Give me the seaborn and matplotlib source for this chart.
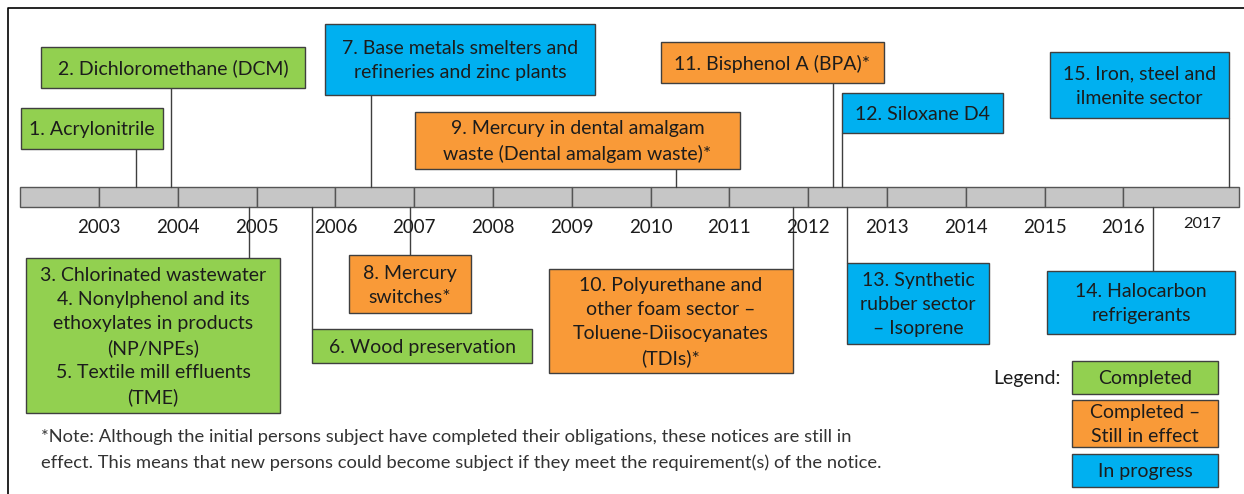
import numpy as np
import pandas as pd
import seaborn as sns
from matplotlib import pyplot as plt
from matplotlib.patches import Rectangle

# --- data -------------------------------------------------------------
years = list(range(2003, 2018))
bar_start, bar_end = 2002.0, 2017.47

notice_labels = [
    '1. Acrylonitrile',
    '2. Dichloromethane (DCM)',
    '3. Chlorinated wastewater\n4. Nonylphenol and its\nethoxylates in products\n(NP/NPEs)\n5. Textile mill effluents\n(TME)',
    '6. Wood preservation',
    '7. Base metals smelters and\nrefineries and zinc plants',
    '8. Mercury\nswitches*',
    '9. Mercury in dental amalgam\nwaste (Dental amalgam waste)*',
    '10. Polyurethane and\nother foam sector \u2013\nToluene-Diisocyanates\n(TDIs)*',
    '11. Bisphenol A (BPA)*',
    '12. Siloxane D4',
    '13. Synthetic\nrubber sector\n\u2013 Isoprene',
    '14. Halocarbon\nrefrigerants',
    '15. Iron, steel and\nilmenite sector',
]
notice_status = [
    'Completed', 'Completed', 'Completed', 'Completed', 'In progress',
    'Still in effect', 'Still in effect', 'Still in effect', 'Still in effect',
    'In progress', 'In progress', 'In progress', 'In progress',
]
notice_year = [2003.47, 2003.91, 2004.90, 2005.70, 2006.45, 2006.95, 2010.32,
               2011.81, 2012.31, 2012.43, 2012.49, 2016.38, 2017.34]

legend_labels = ['Completed', 'Completed \u2013\nStill in effect', 'In progress']
legend_status = ['Completed', 'Still in effect', 'In progress']

note_lines = [
    '*Note: Although the initial persons subject have completed their obligations, these notices are still in',
    'effect. This means that new persons could become subject if they meet the requirement(s) of the notice.',
]

# --- layout (pixels of the 1244x494 canvas) ---------------------------
PX0, PX_YEAR = 99, 78.8


def px2yr(px):
    return 2003 + (px - PX0) / PX_YEAR


# box: left, right, top, bottom
boxes = [
    (21, 163, 108, 149), (41, 305, 47, 88), (26, 280, 258, 413),
    (312, 532, 329, 363), (325, 595, 24, 95), (349, 471, 255, 313),
    (415, 740, 112, 169), (549, 793, 269, 373), (661, 884, 42, 83),
    (842, 1003, 93, 133), (847, 989, 263, 344), (1047, 1235, 271, 334),
    (1050, 1229, 52, 118),
]
legend_boxes = [(1072, 1218, 361, 394), (1072, 1218, 400, 447), (1072, 1218, 454, 487)]
BAR_TOP, BAR_BOT = 187, 207

colors = {'Completed': '#92D050', 'Still in effect': '#F99A38', 'In progress': '#00B0F0'}
EDGE = '#3f3f3f'
TXT = '#1c1c1c'
FS = 14

sns.set_theme(style='white')
plt.rcParams['font.family'] = ['Lato', 'DejaVu Sans']

fig = plt.figure(figsize=(12.44, 4.94), dpi=100)
ax = fig.add_axes([0, 0, 1, 1])
ax.axis('off')

# frame
ax.plot([px2yr(8), px2yr(8), px2yr(1244)], [494, 8, 8], color='black', lw=1.2)

# timeline bar, one segment per year
seg_left = np.array([bar_start] + years[:-1], dtype=float)
seg_right = np.append(seg_left[1:], bar_end)
ax.barh(y=(BAR_TOP + BAR_BOT) / 2, width=seg_right - seg_left, left=seg_left,
        height=BAR_BOT - BAR_TOP, color='#C6C6C6', edgecolor='#555555', lw=1)
for yr in years:
    last = yr == years[-1]
    ax.text(yr, 224 if last else 227, str(yr), ha='center', va='center',
            fontsize=11.8 if last else 13.5, color=TXT)

# connectors
rows = []
for i, yr in enumerate(notice_year):
    x0, x1, y0, y1 = boxes[i]
    if y1 < BAR_TOP:
        rows += [(i, yr, BAR_TOP), (i, yr, y1)]
    else:
        rows += [(i, yr, BAR_BOT), (i, yr, y0)]
conn = pd.DataFrame(rows, columns=['id', 'x', 'y'])
sns.lineplot(data=conn, x='x', y='y', units='id', estimator=None, sort=False,
             color=EDGE, lw=1, ax=ax, legend=False)
ax.set_xlim(px2yr(0), px2yr(1244))
ax.set_ylim(494, 0)
ax.axis('off')


def draw_box(b, label, status):
    x0, x1, y0, y1 = b
    ax.add_patch(Rectangle((px2yr(x0), y0), px2yr(x1) - px2yr(x0), y1 - y0,
                           facecolor=colors[status], edgecolor=EDGE, lw=1, zorder=3))
    ax.text((px2yr(x0) + px2yr(x1)) / 2, (y0 + y1) / 2 + 1, label, ha='center',
            va='center', fontsize=FS, color=TXT, linespacing=1.5, zorder=4)


for b, lab, st in zip(boxes, notice_labels, notice_status):
    draw_box(b, lab, st)
for b, lab, st in zip(legend_boxes, legend_labels, legend_status):
    draw_box(b, lab, st)
ax.text(px2yr(1061), 378, 'Legend:', ha='right', va='center', fontsize=FS, color=TXT)

# note
ax.text(px2yr(41), 437, note_lines[0], ha='left', va='center', fontsize=13.2, color='#333333')
ax.text(px2yr(41), 463, note_lines[1], ha='left', va='center', fontsize=13.2, color='#333333')

fig.savefig('out.png', dpi=100)
